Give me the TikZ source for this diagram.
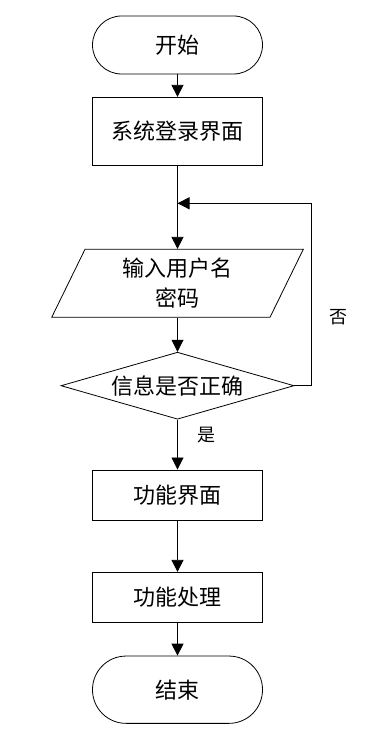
\documentclass[tikz,border=0pt]{standalone}
\usepackage{fontspec}
\newfontfamily\cjk{Noto Sans CJK SC}
\usetikzlibrary{arrows.meta,shapes.geometric}
\begin{document}
\begin{tikzpicture}[x=1pt,y=-1pt,
  base/.style={draw=black,line width=0.8pt,inner sep=0pt,font=\cjk\fontsize{22}{30}\selectfont,text=black},
  term/.style={base,rounded corners=29pt,minimum width=170pt},
  procbox/.style={base,rectangle,minimum width=170pt},
  dec/.style={base,diamond,aspect=3.5,minimum width=233pt,minimum height=67pt},
  lbl/.style={font=\cjk\fontsize{18}{20}\selectfont,inner sep=0pt},
  arr/.style={-{Triangle[length=12pt,width=12pt]},line width=0.8pt,draw=black}]
\useasboundingbox (0,0) rectangle (382,738);
\node[term,minimum height=58pt] (start) at (177.5,45) {开始};
\node[procbox,minimum height=68pt] (login) at (177.5,131.3) {系统登录界面};
\draw[line width=0.8pt] (85,249.3) -- (303.3,249.3) -- (270,317.3) -- (51.7,317.3) -- cycle;
\node[base,draw=none,minimum width=200pt,minimum height=68pt,align=center] (in) at (177.5,283.3) {输入用户名\\密码};
\node[dec] (dia) at (177.5,385.7) {信息是否正确};
\node[procbox,minimum height=50.7pt] (func) at (177.5,495.3) {功能界面};
\node[procbox,minimum height=50pt] (proc) at (177.5,597.3) {功能处理};
\node[term,rounded corners=33.5pt,minimum height=67.3pt] (end) at (177.5,689.7) {结束};
\coordinate (loop) at (177.5,203.3);
\coordinate (corner) at (311.7,203.3);
\node[lbl] (no) at (338,317) {否};
\node[lbl] (yes) at (206,435) {是};
\draw[arr] (start) -- (login);
\draw[arr] (login) -- (in.north);
\draw[arr] (in.south) -- (dia);
\draw[arr] (dia.east) -| (corner) -- (loop);
\draw[arr] (dia) -- (func);
\draw[arr] (func) -- (proc);
\draw[arr] (proc) -- (end);
\end{tikzpicture}
\end{document}
